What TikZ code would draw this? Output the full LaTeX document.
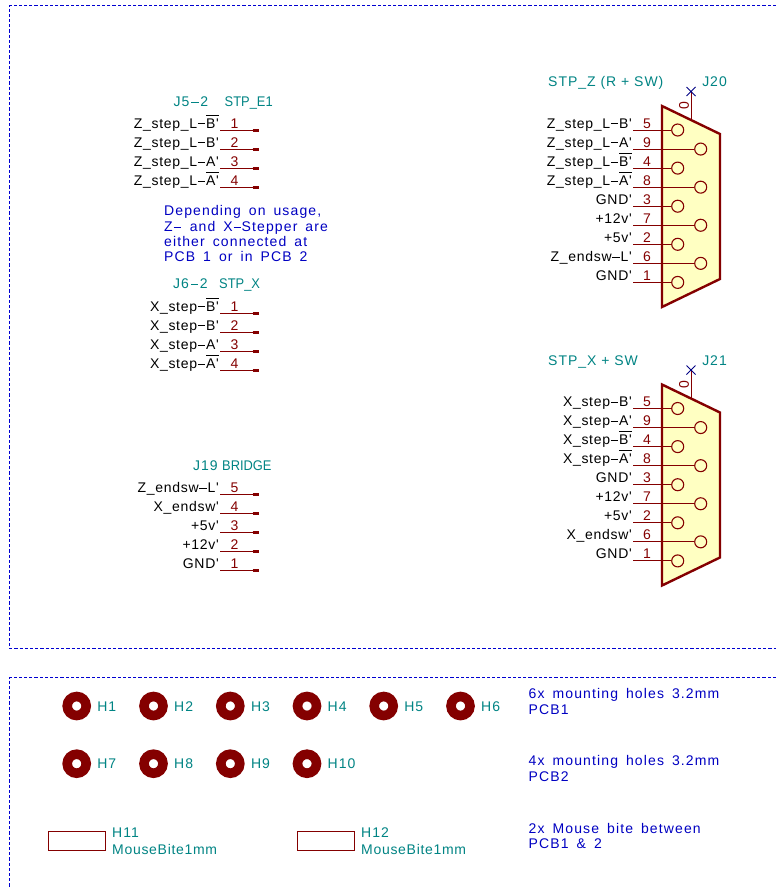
\documentclass[tikz,border=0pt]{standalone}
\usepackage{fontspec}
\newfontfamily\sigfont[LetterSpace=5]{Liberation Sans}
\newfontfamily\reffont[LetterSpace=7]{Liberation Sans}
\newfontfamily\capfont[FakeStretch=0.92]{Liberation Sans}
\newfontfamily\notefont[LetterSpace=8,WordSpace=1.6]{Liberation Sans}
\definecolor{kred}{HTML}{840000}
\definecolor{kteal}{HTML}{008484}
\definecolor{kblue}{HTML}{0000C2}
\definecolor{ksheet}{HTML}{0000D0}
\definecolor{knavy}{HTML}{000084}
\definecolor{kyel}{HTML}{FFFFC2}
\newcommand\ovl[1]{\setbox0\hbox{#1}\rlap{\raisebox{12.6pt}{\rule{\wd0}{0.8pt}}}\box0 }
\newcommand\kd{\kern0.8pt\rule[3.7pt]{7.4pt}{0.9pt}\kern0.8pt}
\tikzset{
 x=1pt,y=-1pt,
 sig/.style={font=\sigfont\fontsize{14}{16}\selectfont,inner sep=0pt,anchor=base east,text=black},
 num/.style={font=\sigfont\fontsize{14}{16}\selectfont,inner sep=0pt,anchor=base,text=kred},
 ref/.style={font=\reffont\fontsize{14}{16}\selectfont,inner sep=0pt,text=kteal,anchor=base west},
 capv/.style={font=\capfont\fontsize{14}{16}\selectfont,inner sep=0pt,text=kteal,anchor=base west},
 bitev/.style={font=\sigfont\fontsize{14}{16}\selectfont,inner sep=0pt,text=kteal,anchor=base west},
 note/.style={font=\notefont\fontsize{14}{16}\selectfont,inner sep=0pt,text=kblue,anchor=base west},
 pinl/.style={draw=kred,line width=1pt},
 pinend/.style={draw=kred,line width=3pt},
 sheet/.style={draw=ksheet,line width=0.9pt,dash pattern=on 3.2pt off 2pt},
 hole/.style={circle,draw=kred,line width=9.6pt,fill=white,minimum size=19pt,inner sep=0pt},
 contact/.style={circle,draw=kred,line width=1.1pt,fill=kyel,minimum size=12pt,inner sep=0pt},
 body/.style={draw=kred,line width=2.4pt,fill=kyel,line join=miter},
 bite/.style={rectangle,draw=kred,line width=1.1pt,fill=white,minimum width=57pt,minimum height=19pt,inner sep=0pt,anchor=north west},
}
\newcommand\openrow[4]{%
 \foreach \n/\lab [count=\i from 0] in {#4}{%
  \coordinate (#1a\n) at (220,#2+\i*19.05);
  \coordinate (#1b\n) at (252.5,#2+\i*19.05);
  \coordinate (#1c\n) at (259,#2+\i*19.05);
  \draw[pinl] (#1a\n) -- (#1b\n);
  \draw[pinend] (#1b\n) -- (#1c\n);
  \node[num] (#1n\n) at (234.5,#2+\i*19.05-2) {\n};
  \node[sig] (#1l\n) at (#3,#2+\i*19.05-2) {\lab};
 }}
\newcommand\dsub[3]{%
 \draw[kred,line width=1pt] (691,#2-11) -- (691,#2-38);
 \draw[pinl,draw=knavy] (686.5,#2-43) -- (695.5,#2-34) (686.5,#2-34) -- (695.5,#2-43);
 \node[num,rotate=90,anchor=center] (#1z) at (684,#2-24) {0};
 \draw[body] (662,#2-24) -- (720,#2+4) -- (720,#2+149) -- (662,#2+177) -- cycle;
 \foreach \n/\lab [count=\i from 0] in {#3}{%
  \pgfmathsetmacro\cx{isodd(\i)?700.7:677.7}
  \node[contact] (#1c\n) at (\cx,#2+\i*19.05) {};
  \coordinate (#1a\n) at (633,#2+\i*19.05);
  \draw[pinl] (#1a\n) -- (#1c\n.west);
  \node[num] (#1n\n) at (647,#2+\i*19.05-2) {\n};
  \node[sig] (#1l\n) at (632,#2+\i*19.05-2) {\lab};
 }}
\begin{document}
\begin{tikzpicture}
\useasboundingbox (0,0) rectangle (776,887);
\fill[white] (0,0) rectangle (776,887);
\draw[sheet] (776,5.5) -- (9.5,5.5) -- (9.5,648.5) -- (776,648.5);
\draw[sheet] (776,677.5) -- (9.5,677.5) -- (9.5,887);

\node[ref] (j5) at (173.5,106.7) {J5\kern1pt\kd\kern1pt 2};
\node[capv] (j5v) at (224.5,106.7) {STP\_E1};
\openrow{J}{130}{219}{1/{Z\_step\_L\kd\ovl{B'}},2/{Z\_step\_L\kd B'},3/{Z\_step\_L\kd A'},4/{Z\_step\_L\kd\ovl{A'}}}

\node[note] (n1) at (164,215.7) {Depending on usage,};
\node[note] (n2) at (164,231.3) {Z\kd\ and X\kd Stepper are};
\node[note] (n3) at (164,246.3) {either connected at};
\node[note] (n4) at (164,261.7) {PCB 1 or in PCB 2};

\node[ref] (j6) at (173,288.7) {J6\kern1pt\kd\kern1pt 2};
\node[capv] (j6v) at (219,288.7) {STP\_X};
\openrow{K}{313}{219}{1/{X\_step\kd\ovl{B'}},2/{X\_step\kd B'},3/{X\_step\kd A'},4/{X\_step\kd\ovl{A'}}}

\node[ref] (j19) at (193,470) {J19};
\node[capv] (j19v) at (222,470) {BRIDGE};
\openrow{M}{494.6}{219}{5/{Z\_endsw\kd L'},4/{X\_endsw'},3/{+5v'},2/{+12v'},1/{GND'}}

\node[ref] (j20v) at (548,86.3) {STP\_Z (R + SW)};
\node[ref,anchor=base east] (j20) at (727,86.3) {J20};
\dsub{P}{130}{5/{Z\_step\_L\kd B'},9/{Z\_step\_L\kd A'},4/{Z\_step\_L\kd\ovl{B'}},8/{Z\_step\_L\kd\ovl{A'}},3/{GND'},7/{+12v'},2/{+5v'},6/{Z\_endsw\kd L'},1/{GND'}}

\node[ref] (j21v) at (548,365) {STP\_X + SW};
\node[ref,anchor=base east] (j21) at (727,365) {J21};
\dsub{Q}{408.5}{5/{X\_step\kd B'},9/{X\_step\kd A'},4/{X\_step\kd\ovl{B'}},8/{X\_step\kd\ovl{A'}},3/{GND'},7/{+12v'},2/{+5v'},6/{X\_endsw'},1/{GND'}}

\foreach \nm/\hx/\hy in {H1/76.7/706,H2/153.5/706,H3/230.3/706,H4/307/706,H5/383.7/706,H6/460.5/706,H7/76.7/763.7,H8/153.5/763.7,H9/230.3/763.7,H10/307/763.7}{
 \node[hole] (\nm) at (\hx,\hy) {};
 \node[ref] (\nm t) at (\hx+20.5,\hy+5.2) {\nm};
}
\node[bite] (H11) at (47.7,831) {};
\node[ref] (H11t) at (112,837) {H11};
\node[bitev] (H11v) at (112,854.3) {MouseBite1mm};
\node[bite] (H12) at (297.2,831) {};
\node[ref] (H12t) at (361,837) {H12};
\node[bitev] (H12v) at (361,854.3) {MouseBite1mm};

\node[note] (t1) at (528.5,698.7) {6x mounting holes 3.2mm};
\node[note] (t2) at (528.5,714) {PCB1};
\node[note] (t3) at (528.5,765.3) {4x mounting holes 3.2mm};
\node[note] (t4) at (528.5,781) {PCB2};
\node[note] (t5) at (528.5,833) {2x Mouse bite between};
\node[note] (t6) at (528.5,848.3) {PCB1 \& 2};
\end{tikzpicture}
\end{document}
